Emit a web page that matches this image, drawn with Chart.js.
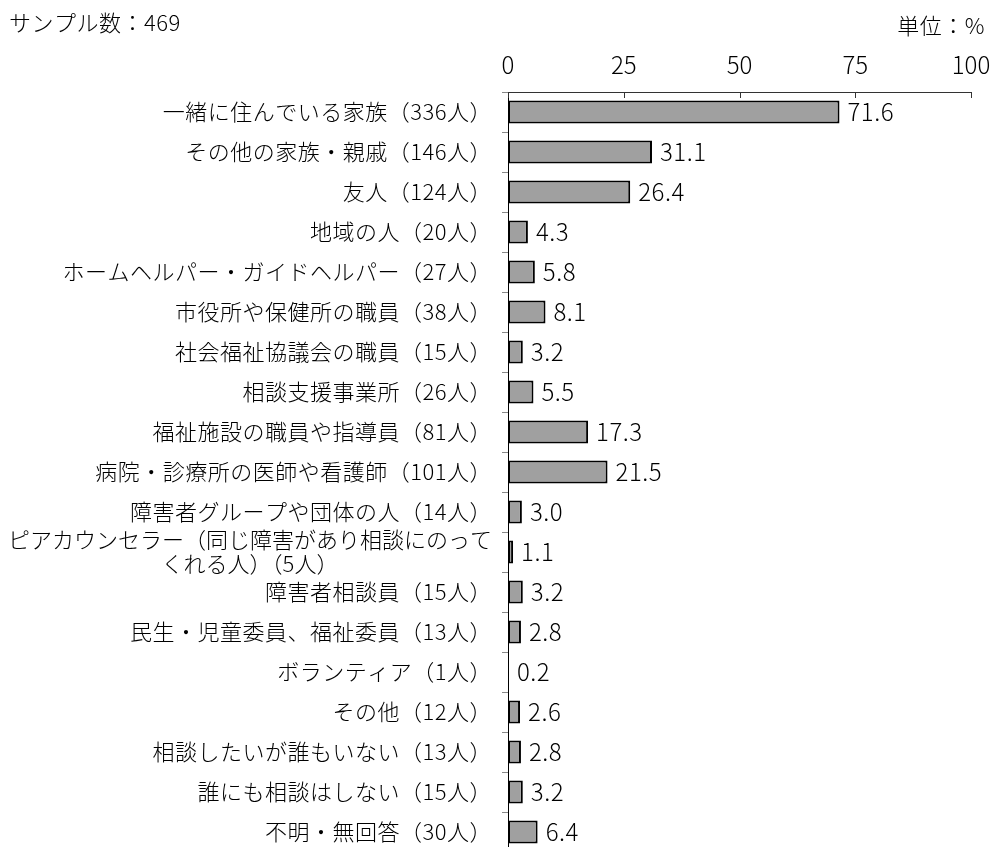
<!DOCTYPE html>
<html lang="ja">
<head>
<meta charset="utf-8">
<title>相談相手</title>
<script src="https://cdn.jsdelivr.net/npm/chart.js@4.4.1/dist/chart.umd.min.js"></script>
<style>
    html, body { margin: 0; padding: 0; background: #fff; overflow: hidden; }
    #chart { display: block; }
</style>
</head>
<body>
<canvas id="chart" width="996" height="856"></canvas>
<script>
// Chart data
const categories = [
    '一緒に住んでいる家族（336人）',
    'その他の家族・親戚（146人）',
    '友人（124人）',
    '地域の人（20人）',
    'ホームヘルパー・ガイドヘルパー（27人）',
    '市役所や保健所の職員（38人）',
    '社会福祉協議会の職員（15人）',
    '相談支援事業所（26人）',
    '福祉施設の職員や指導員（81人）',
    '病院・診療所の医師や看護師（101人）',
    '障害者グループや団体の人（14人）',
    ['ピアカウンセラー（同じ障害があり相談にのって', 'くれる人）（5人）'],
    '障害者相談員（15人）',
    '民生・児童委員、福祉委員（13人）',
    'ボランティア（1人）',
    'その他（12人）',
    '相談したいが誰もいない（13人）',
    '誰にも相談はしない（15人）',
    '不明・無回答（30人）'
];
const percentages = [71.6, 31.1, 26.4, 4.3, 5.8, 8.1, 3.2, 5.5, 17.3, 21.5, 3.0, 1.1, 3.2, 2.8, 0.2, 2.6, 2.8, 3.2, 6.4];
const axisTicks = [0, 25, 50, 75, 100];
const sampleText = 'サンプル数：469';
const unitText = '単位：%';

const FONT = '"Noto Sans CJK JP", "Noto Sans", sans-serif';

// Draws titles, category labels, value labels and the inward axis ticks
const annotatePlugin = {
    id: 'annotate',
    afterDraw(chart) {
        const ctx = chart.ctx;
        const xScale = chart.scales.x;
        const yScale = chart.scales.y;
        const area = chart.chartArea;

        ctx.save();
        ctx.fillStyle = '#000';
        ctx.textBaseline = 'middle';

        // Header texts
        ctx.font = '300 22px ' + FONT;
        ctx.letterSpacing = '0.5px';
        ctx.textAlign = 'left';
        ctx.fillText(sampleText, 9, 23);
        ctx.textAlign = 'right';
        ctx.fillText(unitText, 985, 26);

        // Small ticks hanging down from the top axis
        ctx.strokeStyle = '#333';
        ctx.lineWidth = 1;
        axisTicks.forEach(function (t) {
            const x = Math.round(xScale.getPixelForValue(t)) + 0.5;
            ctx.beginPath();
            ctx.moveTo(x, area.top);
            ctx.lineTo(x, area.top + 6);
            ctx.stroke();
        });

        // Category labels (multi-line label is centred on its first line)
        const labelRight = 492;
        categories.forEach(function (label, i) {
            const y = yScale.getPixelForValue(i);
            if (Array.isArray(label)) {
                ctx.letterSpacing = '0px';
                const w = ctx.measureText(label[0]).width;
                const cx = labelRight - w / 2;
                ctx.textAlign = 'right';
                ctx.fillText(label[0], labelRight, y - 12);
                ctx.textAlign = 'center';
                ctx.fillText(label[1], cx, y + 12);
                ctx.letterSpacing = '0.5px';
            } else {
                ctx.textAlign = 'right';
                ctx.fillText(label, labelRight, y);
            }
        });

        // Value labels at the end of each bar
        ctx.font = '300 24px ' + FONT;
        ctx.letterSpacing = '0.5px';
        ctx.textAlign = 'left';
        const meta = chart.getDatasetMeta(0);
        meta.data.forEach(function (bar, i) {
            ctx.fillText(percentages[i].toFixed(1), bar.x + 8, bar.y);
        });

        ctx.restore();
    }
};

const ctx = document.getElementById('chart').getContext('2d');
const chart = new Chart(ctx, {
    type: 'bar',
    data: {
        labels: categories,
        datasets: [{
            data: percentages,
            backgroundColor: '#a0a0a0',
            borderColor: '#000',
            borderWidth: 2,
            borderSkipped: false,
            barPercentage: 0.58,
            categoryPercentage: 1.0
        }]
    },
    options: {
        indexAxis: 'y',
        responsive: false,
        animation: false,
        events: [],
        layout: {
            padding: { top: 0, right: 25, bottom: 4, left: 0 }
        },
        plugins: {
            legend: { display: false },
            tooltip: { enabled: false }
        },
        scales: {
            x: {
                position: 'top',
                min: 0,
                max: 100,
                afterBuildTicks: function (scale) {
                    scale.ticks = axisTicks.map(function (v) { return { value: v }; });
                },
                afterFit: function (scale) {
                    scale.height = 92;
                    scale.paddingLeft = 0;
                    scale.paddingRight = 0;
                },
                grid: { display: false, drawTicks: false },
                border: { display: true, color: '#333', width: 1 },
                ticks: {
                    padding: 13,
                    color: '#000',
                    font: { family: FONT, size: 24, weight: '300' }
                }
            },
            y: {
                afterFit: function (scale) { scale.width = 508; },
                grid: {
                    display: true,
                    drawOnChartArea: false,
                    drawTicks: true,
                    tickLength: 6,
                    offset: true,
                    color: '#888'
                },
                border: { display: true, color: '#000', width: 1 },
                ticks: { display: false }
            }
        }
    },
    plugins: [annotatePlugin]
});
</script>
</body>
</html>
